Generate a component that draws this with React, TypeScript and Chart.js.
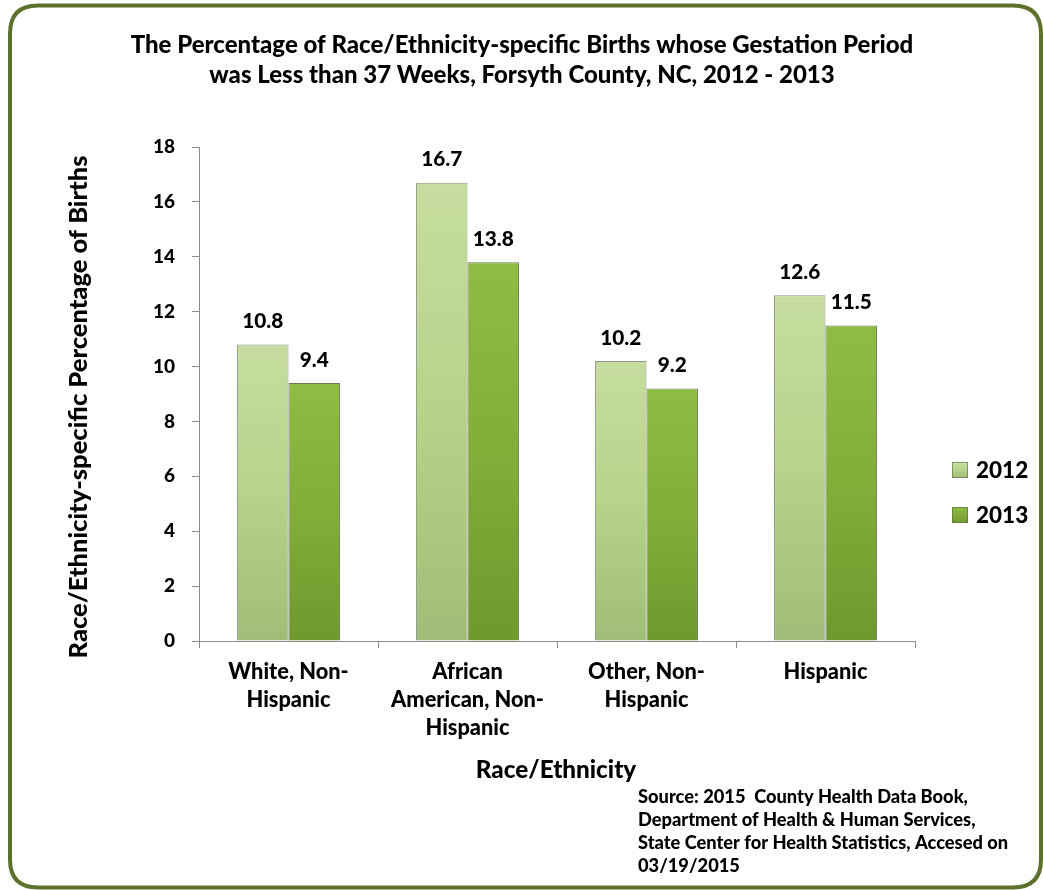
import React, { useEffect, useRef } from "react";
import { Chart, registerables } from "chart.js";

Chart.register(...registerables);

// ---- Data ----
const categories = [
  "White, Non-Hispanic",
  "African American, Non-Hispanic",
  "Other, Non-Hispanic",
  "Hispanic",
];
const categoryLines = [
  ["White, Non-", "Hispanic"],
  ["African", "American, Non-", "Hispanic"],
  ["Other, Non-", "Hispanic"],
  ["Hispanic"],
];
const seriesNames = ["2012", "2013"];
const values2012 = [10.8, 16.7, 10.2, 12.6];
const values2013 = [9.4, 13.8, 9.2, 11.5];
const yMin = 0;
const yMax = 18;
const yStep = 2;
const titleLines = [
  "The Percentage of Race/Ethnicity-specific Births whose Gestation Period",
  "was Less than 37 Weeks, Forsyth County, NC, 2012 - 2013",
];
const yTitle = "Race/Ethnicity-specific Percentage of Births";
const xTitle = "Race/Ethnicity";
const sourceLines = [
  "Source: 2015  County Health Data Book,",
  "Department of Health & Human Services,",
  "State Center for Health Statistics, Accesed on",
  "03/19/2015",
];

// ---- Styles ----
const FONT = "Lato, 'Open Sans', sans-serif";
const WEIGHT = "900";
const W = 1043;
const H = 890;
const stops2012 = ["#c6dd9f", "#b7d38a", "#a0bd77"];
const stops2013 = ["#8fbc43", "#82ae38", "#6f982e"];

function fontOf(size: number) {
  return `${WEIGHT} ${size}px ${FONT}`;
}

function sizeForWidth(text: string, targetW: number) {
  const cv = document.createElement("canvas");
  const c = cv.getContext("2d") as CanvasRenderingContext2D;
  c.font = fontOf(20);
  const w = c.measureText(text).width;
  return Math.round((20 * targetW) / w * 4) / 4;
}

function barFill(stops: string[]) {
  return (ctx: any) => {
    const chart = ctx.chart;
    if (!chart.chartArea || ctx.type !== "data") return stops[1];
    const ys = chart.scales.y;
    const top = ys.getPixelForValue(ctx.raw);
    const bottom = ys.getPixelForValue(0);
    if (!isFinite(top) || !isFinite(bottom) || top === bottom) return stops[1];
    const g = chart.ctx.createLinearGradient(0, top, 0, bottom);
    g.addColorStop(0, stops[0]);
    g.addColorStop(0.5, stops[1]);
    g.addColorStop(1, stops[2]);
    return g;
  };
}

function roundRect(c: CanvasRenderingContext2D, x: number, y: number, w: number, h: number, r: number) {
  c.beginPath();
  c.moveTo(x + r, y);
  c.lineTo(x + w - r, y);
  c.quadraticCurveTo(x + w, y, x + w, y + r);
  c.lineTo(x + w, y + h - r);
  c.quadraticCurveTo(x + w, y + h, x + w - r, y + h);
  c.lineTo(x + r, y + h);
  c.quadraticCurveTo(x, y + h, x, y + h - r);
  c.lineTo(x, y + r);
  c.quadraticCurveTo(x, y, x + r, y);
  c.closePath();
}

const decorPlugin = {
  id: "decor",
  beforeDraw(chart: any) {
    const c = chart.ctx as CanvasRenderingContext2D;
    c.save();
    c.fillStyle = "#ffffff";
    c.fillRect(0, 0, W, H);
    c.lineWidth = 4;
    c.strokeStyle = "#5d712c";
    roundRect(c, 10, 5.5, 1031, 882, 28);
    c.stroke();
    c.restore();
  },
  afterDraw(chart: any) {
    const c = chart.ctx as CanvasRenderingContext2D;
    c.save();
    c.fillStyle = "#000000";
    c.textBaseline = "middle";

    // Title
    c.textAlign = "center";
    c.font = fontOf(sizeForWidth(titleLines[0], 779));
    c.fillText(titleLines[0], 522, 45);
    c.fillText(titleLines[1], 522, 75);

    // Y title
    c.save();
    c.translate(79, 407);
    c.rotate(-Math.PI / 2);
    c.font = fontOf(sizeForWidth(yTitle, 505));
    c.textAlign = "center";
    c.fillText(yTitle, 0, 0);
    c.restore();

    // X title
    c.textAlign = "center";
    c.font = fontOf(sizeForWidth(xTitle, 160));
    c.fillText(xTitle, 556, 770);

    // Source
    c.textAlign = "left";
    c.font = fontOf(sizeForWidth(sourceLines[2], 369));
    sourceLines.forEach((l, i) => c.fillText(l, 638, 797 + i * 23));

    // Legend
    const stopsArr = [stops2012, stops2013];
    seriesNames.forEach((name, i) => {
      const y = 470 + i * 45;
      const g = c.createLinearGradient(0, y - 8, 0, y + 8);
      g.addColorStop(0, stopsArr[i][0]);
      g.addColorStop(0.5, stopsArr[i][1]);
      g.addColorStop(1, stopsArr[i][2]);
      c.fillStyle = g;
      c.fillRect(952, y - 8, 16, 16);
      c.strokeStyle = "rgba(90,100,70,0.6)";
      c.lineWidth = 1;
      c.strokeRect(952.5, y - 7.5, 15, 15);
      c.fillStyle = "#000000";
      c.font = fontOf(sizeForWidth("2012", 52));
      c.textAlign = "left";
      c.fillText(name, 976, y + 1);
    });

    // Data labels
    c.textAlign = "center";
    c.font = fontOf(sizeForWidth("13.8", 41));
    chart.data.datasets.forEach((ds: any, di: number) => {
      const meta = chart.getDatasetMeta(di);
      meta.data.forEach((el: any, i: number) => {
        c.fillText(ds.data[i].toFixed(1), el.x, el.y - 23);
      });
    });
    c.restore();
  },
};

export default function App() {
  const ref = useRef<HTMLCanvasElement | null>(null);
  useEffect(() => {
    if (!ref.current) return;
    const xTickSize = sizeForWidth("White, Non-", 121);
    const yTickSize = sizeForWidth("18", 22);
    const chart = new Chart(ref.current, {
      type: "bar",
      data: {
        labels: categories,
        datasets: [
          {
            label: seriesNames[0],
            data: values2012,
            backgroundColor: barFill(stops2012),
            borderColor: "rgba(95,105,80,0.7)",
            borderWidth: 1,
            categoryPercentage: 0.575,
            barPercentage: 1.0,
          },
          {
            label: seriesNames[1],
            data: values2013,
            backgroundColor: barFill(stops2013),
            borderColor: "rgba(70,85,45,0.8)",
            borderWidth: 1,
            categoryPercentage: 0.575,
            barPercentage: 1.0,
          },
        ],
      },
      options: {
        responsive: false,
        animation: false,
        devicePixelRatio: 1,
        layout: { padding: { left: 0, top: 147, right: 128, bottom: 0 } },
        plugins: {
          legend: { display: false },
          title: { display: false },
          tooltip: { enabled: false },
        },
        scales: {
          x: {
            grid: {
              drawOnChartArea: false,
              drawTicks: true,
              tickLength: 7,
              color: "#8c8c8c",
              offset: true,
            },
            border: { color: "#8c8c8c", width: 1 },
            ticks: {
              color: "#000000",
              font: { family: FONT, size: xTickSize, weight: WEIGHT, lineHeight: 28 / xTickSize },
              padding: 10,
              maxRotation: 0,
              autoSkip: false,
              callback: (_v: any, i: number) => categoryLines[i],
            },
            afterFit: (s: any) => {
              s.height = 249;
            },
          },
          y: {
            min: yMin,
            max: yMax,
            grid: {
              drawOnChartArea: false,
              drawTicks: true,
              tickLength: 7,
              color: "#8c8c8c",
            },
            border: { color: "#8c8c8c", width: 1 },
            ticks: {
              stepSize: yStep,
              color: "#000000",
              font: { family: FONT, size: yTickSize, weight: WEIGHT },
              padding: 17,
            },
            afterFit: (s: any) => {
              s.width = 199;
            },
          },
        },
      },
      plugins: [decorPlugin],
    });
    return () => chart.destroy();
  }, []);
  return (
    <div style={{ position: "absolute", left: 0, top: 0, width: W, height: H }}>
      <canvas ref={ref} width={W} height={H} style={{ display: "block" }} />
    </div>
  );
}
